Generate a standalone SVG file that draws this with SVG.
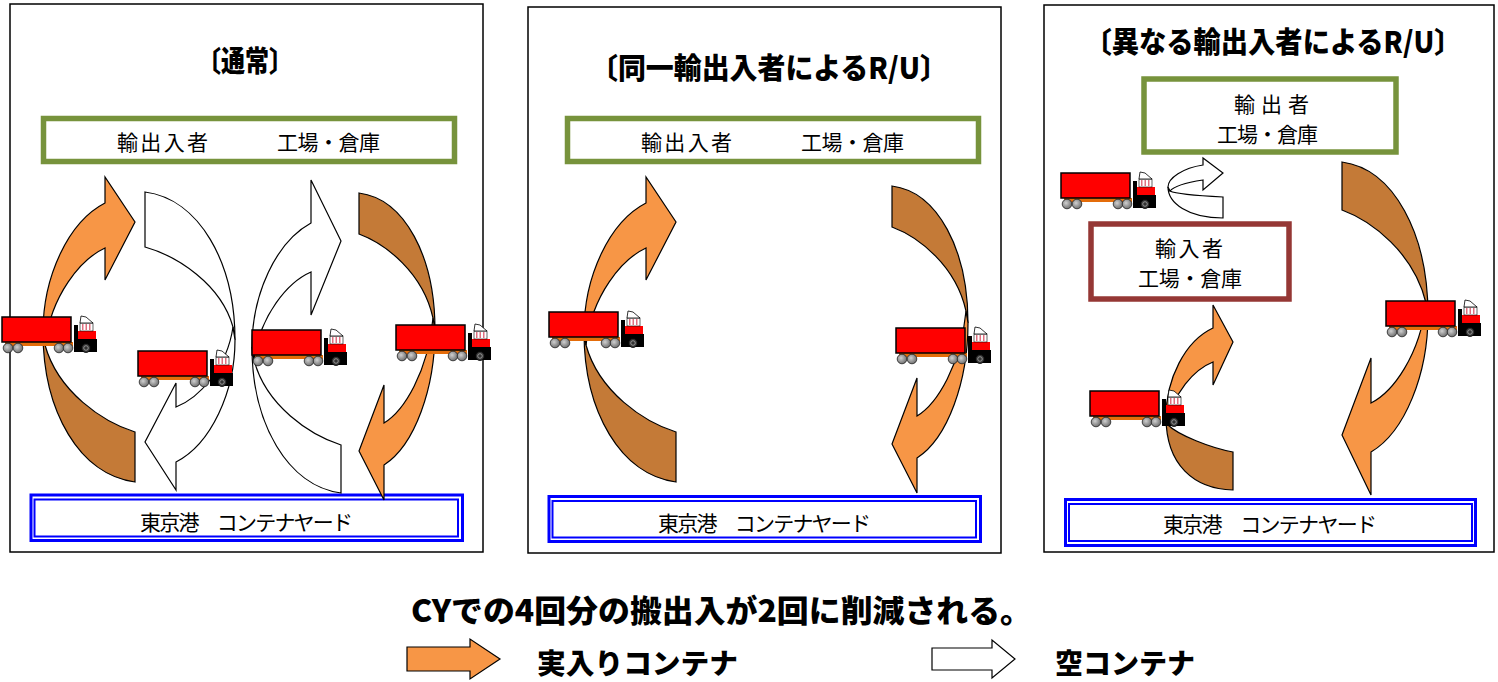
<svg xmlns="http://www.w3.org/2000/svg" xmlns:xlink="http://www.w3.org/1999/xlink" width="1498" height="682" viewBox="0 0 1498 682">
<style>
  .frame{fill:#fff;stroke:#000;stroke-width:1.5}
  .green{fill:#fff;stroke:#77933C;stroke-width:5.5}
  .brown{fill:#fff;stroke:#953735;stroke-width:5.5}
  .blueO{fill:#fff;stroke:#0000FF;stroke-width:3}
  .blueI{fill:none;stroke:#0000FF;stroke-width:2}
  .lbl{font-family:"Noto Sans CJK JP","Noto Sans CJK SC",sans-serif;font-size:21px;fill:#000}
  .ttl{font-family:"Noto Sans CJK JP","Noto Sans CJK SC",sans-serif;font-size:29px;font-weight:900;fill:#000}
  .big{font-family:"Noto Sans CJK JP","Noto Sans CJK SC",sans-serif;font-size:31px;font-weight:900;fill:#000}
  .leg{font-family:"Noto Sans CJK JP","Noto Sans CJK SC",sans-serif;font-size:28px;font-weight:900;fill:#000}
  .hi{fill:#F79646}
  .lo{fill:#C47A37}
  .wh{fill:#fff}
  .arw path,.arw polygon{stroke:#000;stroke-width:1.2;stroke-linejoin:miter}
</style>
<defs>
  <radialGradient id="wheelFill" cx="0.4" cy="0.4" r="0.6">
    <stop offset="0" stop-color="#d0d0d0"/>
    <stop offset="1" stop-color="#707070"/>
  </radialGradient>
  <!-- tractor-trailer icon, origin at the trailer's top-left corner -->
  <g id="truck">
    <rect x="3" y="25" width="68" height="4" fill="#E46C0A"/>
    <rect x="0" y="0" width="69" height="25" fill="#FF0000" stroke="#000" stroke-width="1.5"/>
    <circle cx="6" cy="31" r="4.8" fill="url(#wheelFill)" stroke="#222" stroke-width="0.8"/>
    <circle cx="16" cy="31" r="4.8" fill="url(#wheelFill)" stroke="#222" stroke-width="0.8"/>
    <circle cx="57" cy="31" r="4.8" fill="url(#wheelFill)" stroke="#222" stroke-width="0.8"/>
    <circle cx="66" cy="31" r="4.8" fill="url(#wheelFill)" stroke="#222" stroke-width="0.8"/>
    <path d="M72 8 H76 V22 H95 V35 H72 Z" fill="#000"/>
    <rect x="76" y="14" width="18" height="8" fill="#FF0000"/>
    <rect x="78" y="6" width="13" height="8" fill="#fff" stroke="#000" stroke-width="0.6"/>
    <rect x="80" y="7" width="1.5" height="6" fill="#E07080"/>
    <rect x="83.5" y="7" width="1.5" height="6" fill="#E07080"/>
    <rect x="87" y="7" width="1.5" height="6" fill="#E07080"/>
    <path d="M78 6 L79 -1 L84 0 L91 6 Z" fill="#fff" stroke="#000" stroke-width="0.8"/>
    <circle cx="84" cy="31" r="4.5" fill="#333" stroke="#000" stroke-width="0.8"/>
    <circle cx="84" cy="31" r="2.3" fill="none" stroke="#aaa" stroke-width="0.8"/>
  </g>
</defs>

<rect width="1498" height="682" fill="#fff"/>

<!-- panel frames -->
<g id="panel-normal"><rect class="frame" x="10" y="4" width="473" height="548"/></g>
<g id="panel-same"><rect class="frame" x="528" y="7" width="473" height="546"/></g>
<g id="panel-diff"><rect class="frame" x="1044" y="5" width="450" height="547"/></g>

<!-- titles -->
<g id="title-normal"><text class="ttl" x="245" y="59" text-anchor="middle" dominant-baseline="central" textLength="96" lengthAdjust="spacingAndGlyphs">〔通常〕</text></g>
<g id="title-same"><text class="ttl" x="769" y="66" text-anchor="middle" dominant-baseline="central" textLength="358" lengthAdjust="spacingAndGlyphs">〔同一輸出入者によるR/U〕</text></g>
<g id="title-diff"><text class="ttl" x="1273" y="40" text-anchor="middle" dominant-baseline="central" textLength="377" lengthAdjust="spacingAndGlyphs">〔異なる輸出入者によるR/U〕</text></g>

<!-- shipper boxes -->
<g id="shipper-normal">
  <rect class="green" x="43.5" y="118.5" width="411" height="43"/>
  <text class="lbl" x="162.5" y="141" text-anchor="middle" dominant-baseline="central" textLength="91" lengthAdjust="spacing">輸出入者</text>
  <text class="lbl" x="328.5" y="141" text-anchor="middle" dominant-baseline="central" textLength="103" lengthAdjust="spacing">工場・倉庫</text>
</g>
<g id="shipper-same">
  <rect class="green" x="567.5" y="118.5" width="411" height="43"/>
  <text class="lbl" x="686.5" y="141" text-anchor="middle" dominant-baseline="central" textLength="91" lengthAdjust="spacing">輸出入者</text>
  <text class="lbl" x="852.5" y="141" text-anchor="middle" dominant-baseline="central" textLength="103" lengthAdjust="spacing">工場・倉庫</text>
</g>
<g id="exporter">
  <rect class="green" x="1144" y="79" width="252" height="73"/>
  <text class="lbl" x="1271.5" y="103" text-anchor="middle" dominant-baseline="central" textLength="75" lengthAdjust="spacing">輸出者</text>
  <text class="lbl" x="1267.5" y="133" text-anchor="middle" dominant-baseline="central" textLength="101" lengthAdjust="spacing">工場・倉庫</text>
</g>
<g id="importer">
  <rect class="brown" x="1091" y="224" width="198" height="75"/>
  <text class="lbl" x="1189" y="247" text-anchor="middle" dominant-baseline="central" textLength="68" lengthAdjust="spacing">輸入者</text>
  <text class="lbl" x="1190" y="277" text-anchor="middle" dominant-baseline="central" textLength="104" lengthAdjust="spacing">工場・倉庫</text>
</g>

<!-- container yard boxes -->
<g id="yard-normal">
  <rect class="blueO" x="31" y="495" width="431.5" height="45.5"/>
  <rect class="blueI" x="34.5" y="499.5" width="423.5" height="37"/>
  <text class="lbl" x="246.5" y="521" text-anchor="middle" dominant-baseline="central" textLength="213" lengthAdjust="spacing">東京港　コンテナヤード</text>
</g>
<g id="yard-same">
  <rect class="blueO" x="549" y="496.5" width="431.5" height="45"/>
  <rect class="blueI" x="552.5" y="501" width="423.5" height="36.5"/>
  <text class="lbl" x="764.5" y="522" text-anchor="middle" dominant-baseline="central" textLength="213" lengthAdjust="spacing">東京港　コンテナヤード</text>
</g>
<g id="yard-diff">
  <rect class="blueO" x="1065.5" y="499.5" width="410" height="46"/>
  <rect class="blueI" x="1069" y="504" width="403" height="37"/>
  <text class="lbl" x="1270" y="523" text-anchor="middle" dominant-baseline="central" textLength="214" lengthAdjust="spacing">東京港　コンテナヤード</text>
</g>

<!-- curved block arrows (lower/back half shaded darker) -->
<g id="connectors" class="arw">
  <!-- normal: loaded out (left) -->
  <g transform="translate(43,177)">
    <path class="lo" d="M92,305 L92,255 C60,245 15,215 2,168 L0,155 C0,235 37,298 92,305Z"/>
    <path class="hi" d="M62,26 L62,0 L92,45 L62,103 L62,71 C38,82 8,118 2,168 L0,155 C0,100 25,45 62,26Z"/>
  </g>
  <!-- normal: empty returned to yard -->
  <g transform="translate(235,490) rotate(180)">
    <path class="wh" d="M90,298 L90,243 C58,234 14,206 2,163 L0,150 C0,228 36,291 90,298Z"/>
    <path class="wh" d="M59,28 L59,0 L90,48 L59,107 L59,83 C36,92 8,122 2,163 L0,150 C0,98 24,46 59,28Z"/>
  </g>
  <!-- normal: empty picked up -->
  <g transform="translate(252,180)">
    <path class="wh" d="M89,313 L89,265 C58,255 14,226 2,180 L0,167 C0,244 36,306 89,313Z"/>
    <path class="wh" d="M59,43 L59,0 L89,61 L59,135 L59,92 C36,102 8,135 2,180 L0,167 C0,114 24,62 59,43Z"/>
  </g>
  <!-- normal: loaded in (right) -->
  <g transform="translate(435,500) rotate(180)">
    <path class="lo" d="M76,307 L76,266 C49,256 12,227 2,182 L0,170 C0,243 30,301 76,307Z"/>
    <path class="hi" d="M51,35 L51,0 L76,49 L51,115 L51,77 C31,89 7,128 2,182 L0,170 C0,112 20,55 51,35Z"/>
  </g>
  <!-- same shipper: left -->
  <g transform="translate(584,177)">
    <path class="lo" d="M92,305 L92,255 C60,245 15,215 2,168 L0,155 C0,235 37,298 92,305Z"/>
    <path class="hi" d="M62,26 L62,0 L92,45 L62,103 L62,71 C38,82 8,118 2,168 L0,155 C0,100 25,45 62,26Z"/>
  </g>
  <!-- same shipper: right -->
  <g transform="translate(968,493) rotate(180)">
    <path class="lo" d="M76,307 L76,266 C49,256 12,227 2,182 L0,170 C0,243 30,301 76,307Z"/>
    <path class="hi" d="M51,35 L51,0 L76,49 L51,115 L51,77 C31,89 7,128 2,182 L0,170 C0,112 20,55 51,35Z"/>
  </g>
  <!-- different shippers: yard to importer -->
  <g transform="translate(1166,305)">
    <path class="lo" d="M67,185 L67,147 C45,143 12,130 2,120 L0,112 C0,160 28,184 67,185Z"/>
    <path class="hi" d="M47,23 L47,0 L67,37 L47,80 L47,57 C29,64 6,88 2,120 L0,112 C0,74 19,36 47,23Z"/>
  </g>
  <!-- different shippers: exporter to yard -->
  <g transform="translate(1428,495) rotate(180)">
    <path class="lo" d="M86,333 L86,285 C56,274 14,242 2,192 L0,180 C0,261 34,326 86,333Z"/>
    <path class="hi" d="M57,43 L57,0 L86,60 L57,137 L57,92 C35,103 8,140 2,192 L0,180 C0,121 23,63 57,43Z"/>
  </g>
  <!-- different shippers: empty moved importer to exporter -->
  <g transform="translate(1168,158)">
    <path class="wh" d="M55,60 L55,39 C35,38 8,36 2,33 L0,29 C0,45 20,60 55,60Z"/>
    <path class="wh" d="M35,7 L35,0 L55,15 L35,32 L35,22 C22,24 6,28 2,33 L0,29 C0,20 15,10 35,7Z"/>
  </g>
</g>

<!-- trucks -->
<g id="trucks">
  <use xlink:href="#truck" x="2" y="317"/>
  <use xlink:href="#truck" x="138" y="351"/>
  <use xlink:href="#truck" x="252" y="330"/>
  <use xlink:href="#truck" x="396" y="325"/>
  <use xlink:href="#truck" x="549" y="312"/>
  <use xlink:href="#truck" x="896" y="328"/>
  <use xlink:href="#truck" x="1061" y="173"/>
  <use xlink:href="#truck" x="1090" y="391"/>
  <use xlink:href="#truck" x="1386" y="301"/>
</g>

<!-- summary and legend -->
<g id="summary">
  <text class="big" x="721.5" y="608" text-anchor="middle" dominant-baseline="central" textLength="621" lengthAdjust="spacingAndGlyphs">CYでの4回分の搬出入が2回に削減される。</text>
</g>
<g id="legend" class="arw">
  <polygon class="hi" points="407,647 470,647 470,639 500,659 470,679 470,671 407,671"/>
  <text class="leg" x="637.5" y="662" text-anchor="middle" dominant-baseline="central" textLength="201" lengthAdjust="spacingAndGlyphs">実入りコンテナ</text>
  <polygon class="wh" points="932,648 992,648 992,640 1015,659 992,678 992,670 932,670"/>
  <text class="leg" x="1125" y="662" text-anchor="middle" dominant-baseline="central" textLength="140" lengthAdjust="spacingAndGlyphs">空コンテナ</text>
</g>
</svg>
